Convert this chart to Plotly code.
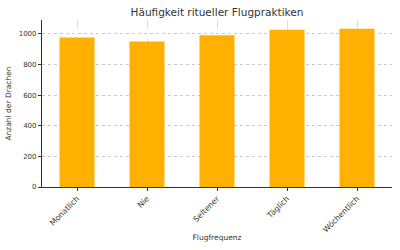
import plotly.graph_objects as go

categories = ["Monatlich", "Nie", "Seltener", "Täglich", "Wöchentlich"]
values = [975, 950, 990, 1027, 1033]
y_ticks = [0, 200, 400, 600, 800, 1000]

fig = go.Figure(go.Bar(
    x=categories, y=values, marker=dict(color="#FFB000", line=dict(width=0)),
    width=0.5,
))
fig.update_layout(
    width=400, height=250,
    margin=dict(l=42, r=8, t=20, b=63),
    paper_bgcolor="white", plot_bgcolor="white",
    font=dict(family="DejaVu Sans", color="#333333", size=7),
    title=dict(text="Häufigkeit ritueller Flugpraktiken", x=0.5425, xanchor="center",
               y=0.95, yanchor="middle", font=dict(size=10.5, color="#333333")),
    showlegend=False,
    bargap=0.5,
)
fig.update_xaxes(
    range=[-0.5, 4.5], tickangle=-45, showline=True, linecolor="#333333", linewidth=1.2,
    showgrid=True, gridcolor="rgba(170,170,170,0.4)", griddash="dash", gridwidth=0.6,
    ticks="outside", ticklen=3, tickcolor="#333333", automargin=False,
    title=dict(text="Flugfrequenz", font=dict(size=7.5), standoff=1),
    tickfont=dict(size=7.8),
)
fig.update_yaxes(
    range=[0, 1090], tickvals=y_ticks, showline=True, linecolor="#333333", linewidth=1.2,
    showgrid=True, gridcolor="rgba(150,150,150,0.5)", griddash="dot", gridwidth=0.7,
    ticks="outside", ticklen=3, tickcolor="#333333", zeroline=False, automargin=False,
    title=dict(text="Anzahl der Drachen", font=dict(size=7.5), standoff=6),
    tickfont=dict(size=7),
)
fig.write_html("out.html")
